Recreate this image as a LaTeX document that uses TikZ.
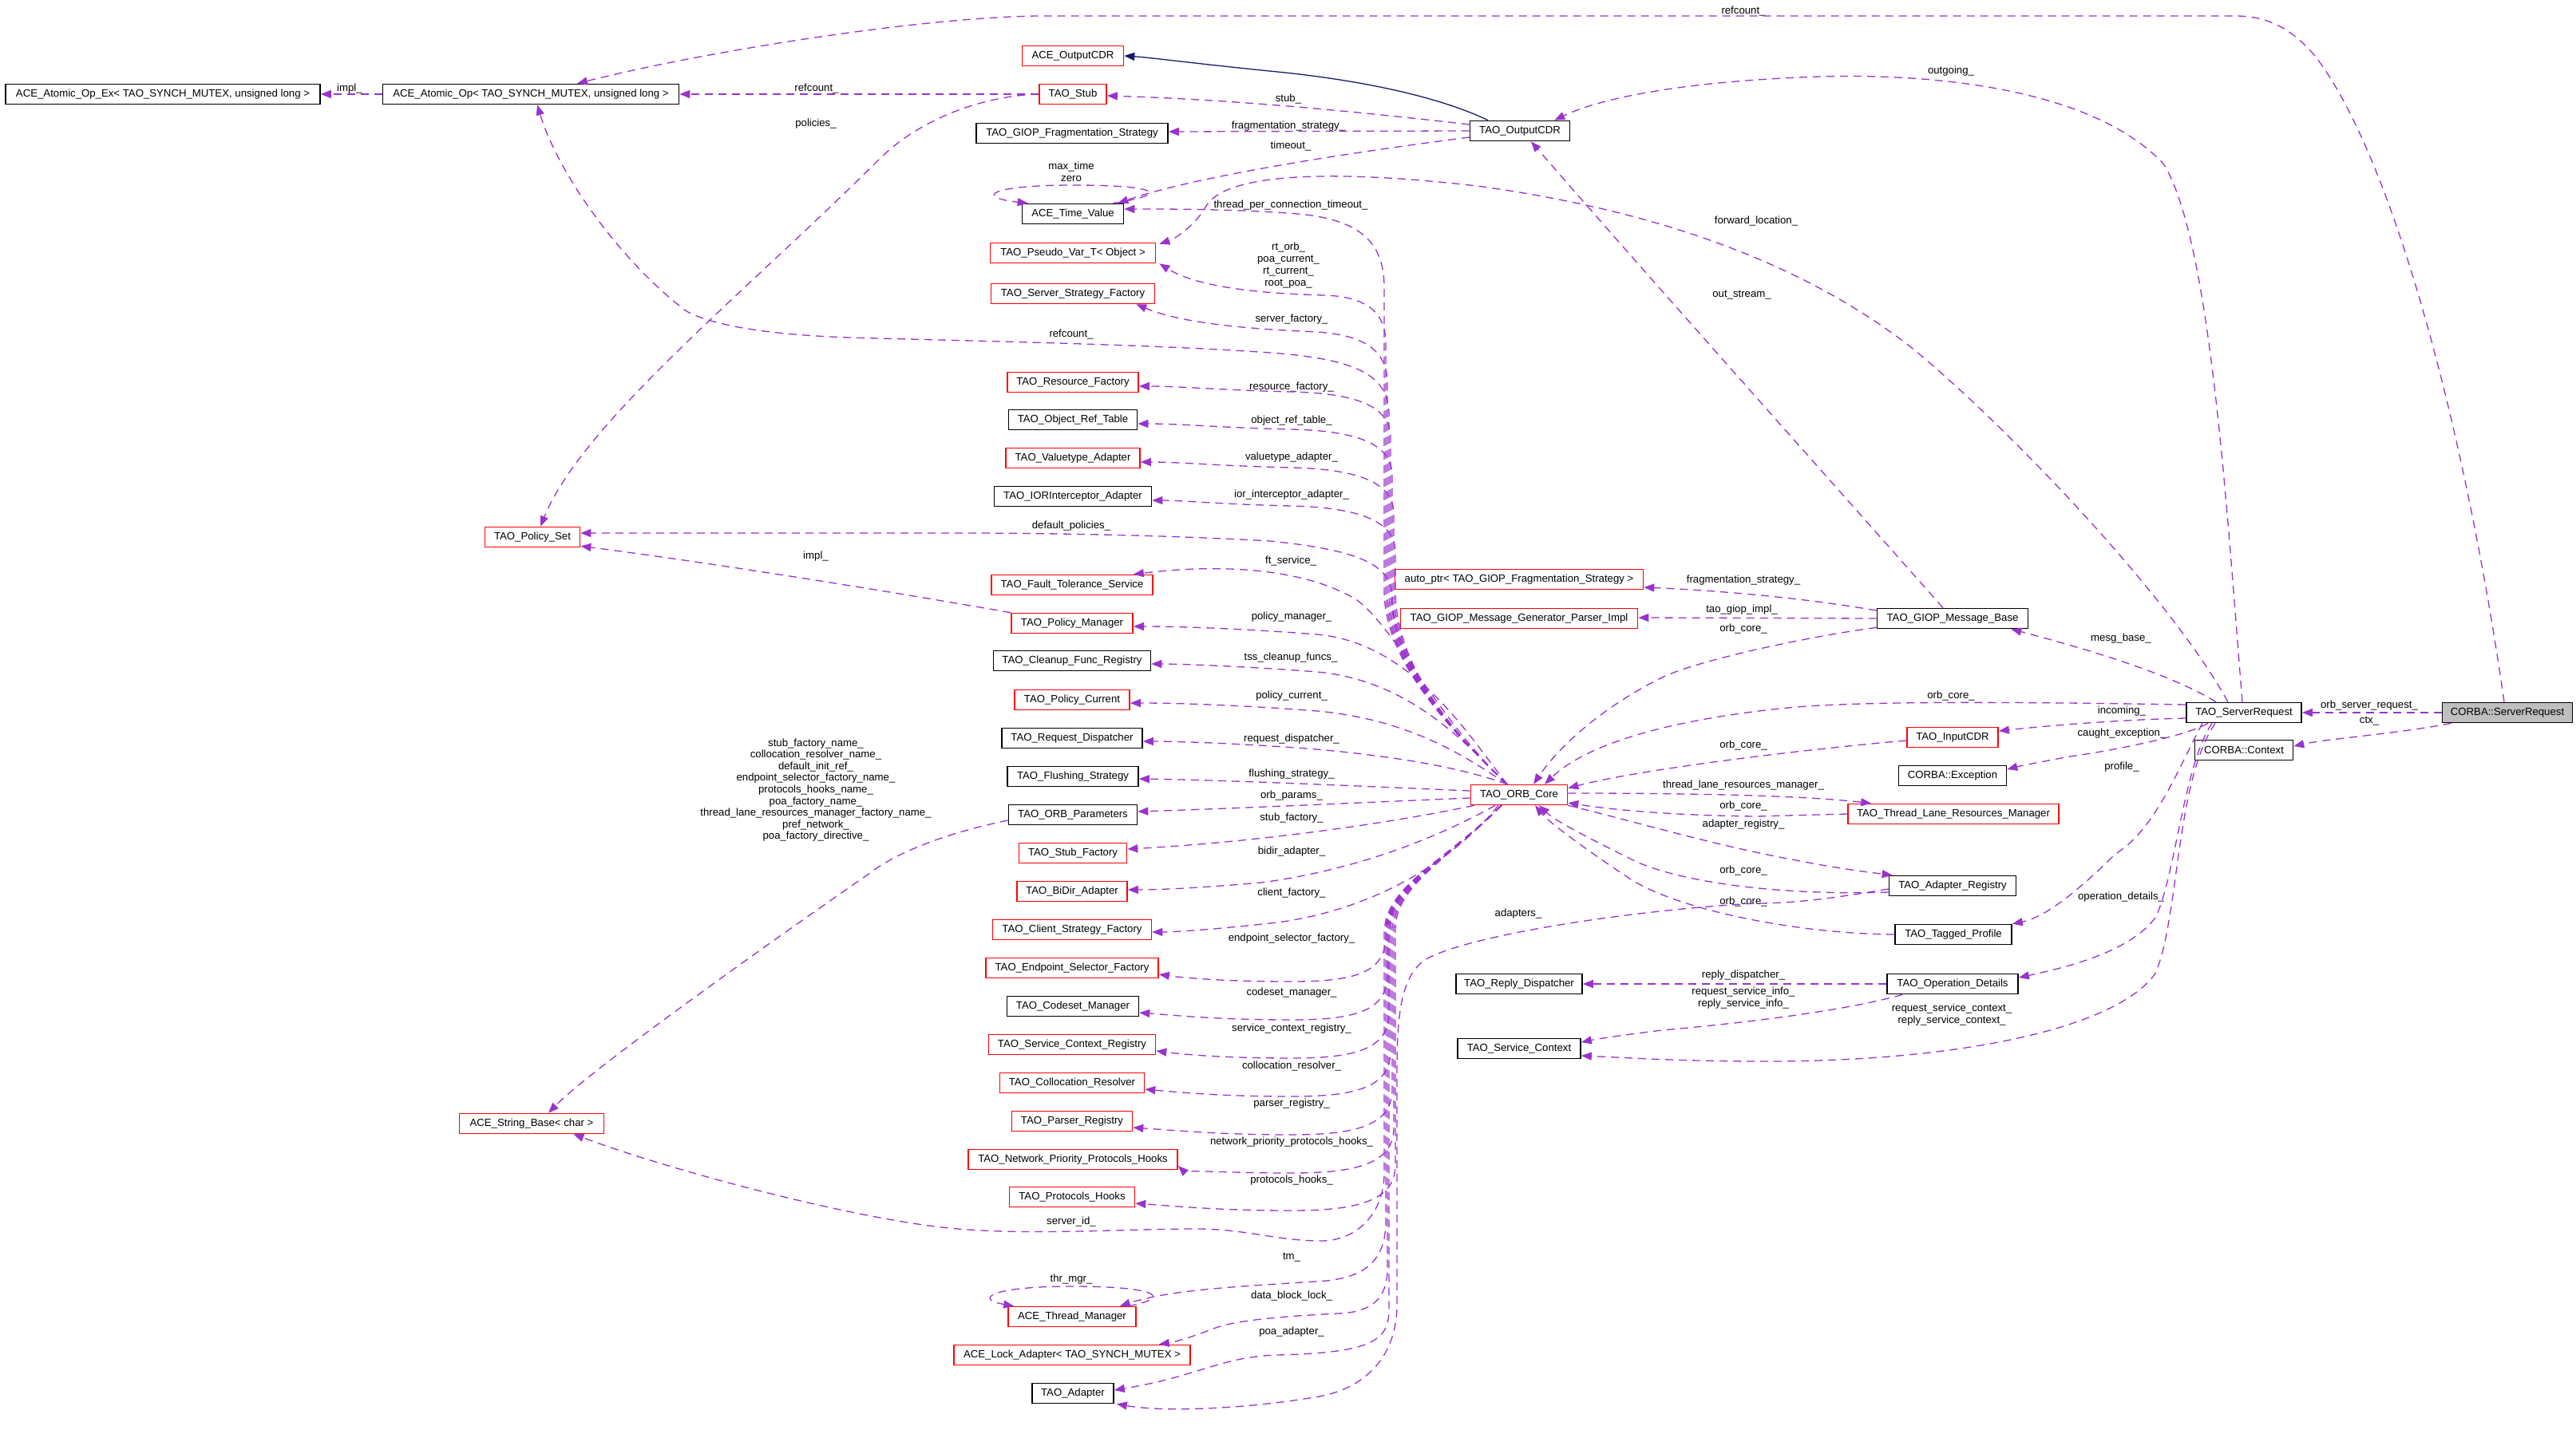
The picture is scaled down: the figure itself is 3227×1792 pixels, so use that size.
\documentclass[tikz,border=0pt]{standalone}
\usepackage{fontspec}
\setmainfont{Liberation Sans}
\usetikzlibrary{arrows.meta,calc}
\definecolor{dxpurple}{RGB}{154,50,205}
\definecolor{dxnavy}{RGB}{25,25,112}
\definecolor{dxgray}{RGB}{191,191,191}
\newcommand\dxfont{\fontsize{6.6pt}{7.5pt}\selectfont}
\tikzset{
 cls/.style={draw, fill=white, line width=0.8pt, minimum height=12.5pt, inner sep=0pt, font=\dxfont},
 bbox/.style={cls, draw=black},
 rbox/.style={cls, draw=red},
 wd/.style={minimum width=#1*0.5pt},
 use/.style={draw=dxpurple, dash pattern=on 5pt off 3.5pt, line width=0.65pt, -{Triangle[length=6.5pt,width=5pt]}},
 inh/.style={draw=dxnavy, line width=0.65pt, -{Triangle[length=6.5pt,width=5pt]}},
 lbl/.style={font=\dxfont, inner sep=0pt, align=center},
}
\newcommand\upE[3]{\draw[use] ($(orbcore.north)+(-15,0)$) .. controls (1800,900) and (#3,820) .. (#3,740) -- (#3,#2+70) .. controls (#3,#2+30) and (1700,#2+14) .. (1618,#2+12) .. controls (1530,#2+10) and (1480,#2+5) .. ($(#1.east)+(0,5)$);}
\newcommand\midE[2]{\draw[use] ($(orbcore.north)+(-15,0)$) .. controls (1840,{0.3*#2+688}) and (1770,#2+25) .. (1650,#2+14) .. controls (1560,#2+7) and (1480,#2+4) .. ($(#1.east)+(0,4)$);}
\newcommand\loE[3]{\draw[use] ($(orbcore.south)+(-22,0)$) .. controls (1810,1080) and (#3,1110) .. (#3,1165) -- (#3,#2-40) .. controls (#3,#2+5) and (1700,#2+17) .. (1618,#2+17) .. controls (1530,#2+17) and (1480,#2+12) .. ($(#1.east)+(0,8)$);}
\begin{document}
\begin{tikzpicture}[x=0.5pt,y=-0.5pt]
\useasboundingbox (0,0) rectangle (3227,1792);
% ---------- classes ----------
\node[bbox,wd=394] (atomicex) at (204,118) {ACE\_Atomic\_Op\_Ex< TAO\_SYNCH\_MUTEX, unsigned long >};
\node[bbox,wd=371] (atomic) at (665,118) {ACE\_Atomic\_Op< TAO\_SYNCH\_MUTEX, unsigned long >};
\node[rbox,wd=119] (policyset) at (667,673) {TAO\_Policy\_Set};
\node[rbox,wd=181] (stringbase) at (666,1408) {ACE\_String\_Base< char >};
\node[rbox,wd=127] (acecdr) at (1344,70) {ACE\_OutputCDR};
\node[rbox,wd=84] (stub) at (1344,118) {TAO\_Stub};
\node[bbox,wd=240] (fragstrat) at (1343,167) {TAO\_GIOP\_Fragmentation\_Strategy};
\node[bbox,wd=127] (timeval) at (1344,268) {ACE\_Time\_Value};
\node[rbox,wd=207] (pseudovar) at (1344,317) {TAO\_Pseudo\_Var\_T< Object >};
\node[rbox,wd=205] (ssf) at (1344,368) {TAO\_Server\_Strategy\_Factory};
\node[rbox,wd=164] (resfac) at (1344,479) {TAO\_Resource\_Factory};
\node[bbox,wd=161] (ortable) at (1344,526) {TAO\_Object\_Ref\_Table};
\node[rbox,wd=168] (valtype) at (1344,574) {TAO\_Valuetype\_Adapter};
\node[bbox,wd=197] (iorint) at (1344,622) {TAO\_IORInterceptor\_Adapter};
\node[rbox,wd=202] (ftserv) at (1343,733) {TAO\_Fault\_Tolerance\_Service};
\node[rbox,wd=152] (polman) at (1343,781) {TAO\_Policy\_Manager};
\node[bbox,wd=197] (cleanup) at (1343,828) {TAO\_Cleanup\_Func\_Registry};
\node[rbox,wd=144] (polcur) at (1343,877) {TAO\_Policy\_Current};
\node[bbox,wd=176] (reqdisp) at (1343,925) {TAO\_Request\_Dispatcher};
\node[bbox,wd=164] (flush) at (1344,973) {TAO\_Flushing\_Strategy};
\node[bbox,wd=161] (orbparams) at (1344,1021) {TAO\_ORB\_Parameters};
\node[rbox,wd=135] (stubfac) at (1344,1069) {TAO\_Stub\_Factory};
\node[rbox,wd=138] (bidir) at (1343,1117) {TAO\_BiDir\_Adapter};
\node[rbox,wd=199] (csf) at (1343,1165) {TAO\_Client\_Strategy\_Factory};
\node[rbox,wd=216] (esf) at (1343,1213) {TAO\_Endpoint\_Selector\_Factory};
\node[bbox,wd=165] (codeset) at (1344,1261) {TAO\_Codeset\_Manager};
\node[rbox,wd=209] (scr) at (1343,1309) {TAO\_Service\_Context\_Registry};
\node[rbox,wd=181] (colres) at (1343,1357) {TAO\_Collocation\_Resolver};
\node[rbox,wd=151] (parser) at (1343,1405) {TAO\_Parser\_Registry};
\node[rbox,wd=262] (nph) at (1344,1453) {TAO\_Network\_Priority\_Protocols\_Hooks};
\node[rbox,wd=157] (phooks) at (1343,1500) {TAO\_Protocols\_Hooks};
\node[rbox,wd=160] (thrmgr) at (1343,1650) {ACE\_Thread\_Manager};
\node[rbox,wd=296] (lockad) at (1343,1698) {ACE\_Lock\_Adapter< TAO\_SYNCH\_MUTEX >};
\node[bbox,wd=102] (adapter) at (1344,1746) {TAO\_Adapter};
\node[bbox,wd=125] (outcdr) at (1904,164) {TAO\_OutputCDR};
\node[rbox,wd=311] (autoptr) at (1903,726) {auto\_ptr< TAO\_GIOP\_Fragmentation\_Strategy >};
\node[rbox,wd=297] (msgimpl) at (1903,775) {TAO\_GIOP\_Message\_Generator\_Parser\_Impl};
\node[rbox,wd=121] (orbcore) at (1903,996) {TAO\_ORB\_Core};
\node[bbox,wd=158] (replydisp) at (1903,1233) {TAO\_Reply\_Dispatcher};
\node[bbox,wd=154] (svcctx) at (1903,1314) {TAO\_Service\_Context};
\node[bbox,wd=189] (msgbase) at (2446,775) {TAO\_GIOP\_Message\_Base};
\node[rbox,wd=114] (inputcdr) at (2446,924) {TAO\_InputCDR};
\node[bbox,wd=135] (exception) at (2446,972) {CORBA::Exception};
\node[rbox,wd=264] (tlrm) at (2447,1020) {TAO\_Thread\_Lane\_Resources\_Manager};
\node[bbox,wd=159] (adreg) at (2446,1110) {TAO\_Adapter\_Registry};
\node[bbox,wd=146] (tagprof) at (2447,1171) {TAO\_Tagged\_Profile};
\node[bbox,wd=164] (opdet) at (2446,1233) {TAO\_Operation\_Details};
\node[bbox,wd=144] (serverreq) at (2811,893) {TAO\_ServerRequest};
\node[bbox,wd=123] (context) at (2811,940) {CORBA::Context};
\node[bbox,wd=163,fill=dxgray] (corbasr) at (3141,893) {CORBA::ServerRequest};
% ---------- labels ----------
\node[lbl] (la1) at (438,111) {impl\_};
\node[lbl] (la2) at (1023,111) {refcount\_};
\node[lbl] (la3) at (1022,155) {policies\_};
\node[lbl] (la4) at (2184,14) {refcount\_};
\node[lbl] (la5) at (1022,697) {impl\_};
\node[lbl] (la6) at (1614,124) {stub\_};
\node[lbl] (la7) at (1614,158) {fragmentation\_strategy\_};
\node[lbl] (la8) at (1617,183) {timeout\_};
\node[lbl] (la9) at (1342,215) {max\_time\\zero};
\node[lbl] (la10) at (1617,257) {thread\_per\_connection\_timeout\_};
\node[lbl] (la11) at (1614,333) {rt\_orb\_\\poa\_current\_\\rt\_current\_\\root\_poa\_};
\node[lbl] (la12) at (1618,400) {server\_factory\_};
\node[lbl] (la13) at (1342,419) {refcount\_};
\node[lbl] (la14) at (1618,485) {resource\_factory\_};
\node[lbl] (la15) at (1618,527) {object\_ref\_table\_};
\node[lbl] (la16) at (1618,573) {valuetype\_adapter\_};
\node[lbl] (la17) at (1618,620) {ior\_interceptor\_adapter\_};
\node[lbl] (la18) at (1342,659) {default\_policies\_};
\node[lbl] (la19) at (1617,703) {ft\_service\_};
\node[lbl] (la20) at (1618,773) {policy\_manager\_};
\node[lbl] (la21) at (1617,824) {tss\_cleanup\_funcs\_};
\node[lbl] (la22) at (1618,872) {policy\_current\_};
\node[lbl] (la23) at (1618,926) {request\_dispatcher\_};
\node[lbl] (la24) at (1618,970) {flushing\_strategy\_};
\node[lbl] (la25) at (1618,997) {orb\_params\_};
\node[lbl] (la26) at (1618,1025) {stub\_factory\_};
\node[lbl] (la27) at (1618,1067) {bidir\_adapter\_};
\node[lbl] (la28) at (1618,1119) {client\_factory\_};
\node[lbl] (la29) at (1618,1176) {endpoint\_selector\_factory\_};
\node[lbl] (la30) at (1618,1244) {codeset\_manager\_};
\node[lbl] (la31) at (1618,1289) {service\_context\_registry\_};
\node[lbl] (la32) at (1618,1336) {collocation\_resolver\_};
\node[lbl] (la33) at (1618,1383) {parser\_registry\_};
\node[lbl] (la34) at (1618,1431) {network\_priority\_protocols\_hooks\_};
\node[lbl] (la35) at (1618,1479) {protocols\_hooks\_};
\node[lbl] (la36) at (1342,1531) {server\_id\_};
\node[lbl] (la37) at (1618,1576) {tm\_};
\node[lbl] (la38) at (1342,1603) {thr\_mgr\_};
\node[lbl] (la39) at (1618,1624) {data\_block\_lock\_};
\node[lbl] (la40) at (1618,1669) {poa\_adapter\_};
\node[lbl,font={\fontsize{6.6pt}{7.3pt}\selectfont}] (la41) at (1022,990) {stub\_factory\_name\_\\collocation\_resolver\_name\_\\default\_init\_ref\_\\endpoint\_selector\_factory\_name\_\\protocols\_hooks\_name\_\\poa\_factory\_name\_\\thread\_lane\_resources\_manager\_factory\_name\_\\pref\_network\_\\poa\_factory\_directive\_};
\node[lbl] (la42) at (2444,89) {outgoing\_};
\node[lbl] (la43) at (2200,277) {forward\_location\_};
\node[lbl] (la44) at (2182,370) {out\_stream\_};
\node[lbl] (la45) at (2184,727) {fragmentation\_strategy\_};
\node[lbl] (la46) at (2182,764) {tao\_giop\_impl\_};
\node[lbl] (la47) at (2184,788) {orb\_core\_};
\node[lbl] (la48) at (2657,800) {mesg\_base\_};
\node[lbl] (la49) at (2444,872) {orb\_core\_};
\node[lbl] (la50) at (2658,891) {incoming\_};
\node[lbl] (la51) at (2658,919) {caught\_exception\_};
\node[lbl] (la52) at (2658,961) {profile\_};
\node[lbl] (la53) at (2184,934) {orb\_core\_};
\node[lbl] (la54) at (2184,984) {thread\_lane\_resources\_manager\_};
\node[lbl] (la55) at (2184,1010) {orb\_core\_};
\node[lbl] (la56) at (2184,1033) {adapter\_registry\_};
\node[lbl] (la57) at (2184,1091) {orb\_core\_};
\node[lbl] (la58) at (2184,1130) {orb\_core\_};
\node[lbl] (la59) at (1902,1145) {adapters\_};
\node[lbl] (la60) at (2657,1124) {operation\_details\_};
\node[lbl] (la61) at (2184,1222) {reply\_dispatcher\_};
\node[lbl] (la62) at (2184,1251) {request\_service\_info\_\\reply\_service\_info\_};
\node[lbl] (la63) at (2445,1272) {request\_service\_context\_\\reply\_service\_context\_};
\node[lbl] (la64) at (2968,884) {orb\_server\_request\_};
\node[lbl] (la65) at (2968,904) {ctx\_};
% ---------- top-left edges ----------
\draw[use] (atomic.west) -- (atomicex.east);
\draw[use] (stub.west) -- (atomic.east);
\draw[use] (stub.west) .. controls (1230,120) and (1150,150) .. (1100,201) .. controls (930,370) and (730,530) .. ($(policyset.north)+(10,0)$);
\draw[use] (polman.north west) .. controls (1050,730) and (850,700) .. ($(policyset.south east)+(0,-2)$);
\draw[use] ($(corbasr.north)+(-4,0)$) .. controls (3090,550) and (3000,200) .. (2900,70) .. controls (2870,35) and (2840,20) .. (2800,20) -- (1300,20) .. controls (1150,22) and (880,65) .. ($(atomic.north)+(58,0)$);
% ---------- TAO_OutputCDR ----------
\draw[inh] ($(outcdr.north)+(-40,0)$) .. controls (1800,120) and (1700,100) .. (1600,90) .. controls (1500,80) and (1440,72) .. (acecdr.east);
\draw[use] ($(outcdr.west)+(0,-8)$) .. controls (1700,140) and (1550,125) .. ($(stub.east)+(0,2)$);
\draw[use] (outcdr.west) -- ($(fragstrat.east)+(0,-2)$);
\draw[use] ($(outcdr.west)+(0,8)$) .. controls (1700,190) and (1500,220) .. ($(timeval.north east)+(-8,0)$);
\draw[use] ($(timeval.north east)+(-14,0)$) .. controls (1470,243) and (1450,232) .. (1344,232) .. controls (1240,232) and (1220,247) .. ($(timeval.north west)+(8,0)$);
% ---------- TAO_ORB_Core, upper left ----------
\draw[use] ($(orbcore.north)+(-15,0)$) .. controls (1800,900) and (1734,820) .. (1734,740) -- (1734,360) .. controls (1734,300) and (1700,272) .. (1612,267) .. controls (1540,262) and (1470,262) .. ($(timeval.east)+(0,-6)$);
\draw[use] ($(orbcore.north)+(-15,0)$) .. controls (1800,900) and (1736,820) .. (1736,740) -- (1736,430) .. controls (1736,390) and (1710,372) .. (1660,370) .. controls (1580,368) and (1500,360) .. ($(pseudovar.south east)+(4,0)$);
\draw[use] ($(orbcore.north)+(-15,0)$) .. controls (1800,900) and (1738,820) .. (1738,740) -- (1738,480) .. controls (1738,440) and (1710,420) .. (1650,416) .. controls (1560,412) and (1480,405) .. ($(ssf.south east)+(-24,0)$);
\draw[use] ($(orbcore.north)+(-15,0)$) .. controls (1800,900) and (1740,820) .. (1740,740) -- (1740,520) .. controls (1740,470) and (1700,450) .. (1591,442) .. controls (1450,432) and (1250,428) .. (1100,424) .. controls (990,422) and (900,412) .. (860,390) .. controls (780,330) and (700,220) .. ($(atomic.south)+(8,0)$);
\upE{resfac}{479}{1742}
\upE{ortable}{526}{1744}
\upE{valtype}{574}{1746}
\upE{iorint}{622}{1748}
\draw[use] ($(orbcore.north)+(-15,0)$) .. controls (1800,900) and (1744,820) .. (1744,750) .. controls (1744,710) and (1710,690) .. (1591,678) .. controls (1450,670) and (1300,668) .. (1200,668) -- ($(policyset.east)+(0,-5)$);
\draw[use] ($(orbcore.north)+(-15,0)$) .. controls (1800,900) and (1750,790) .. (1700,752) .. controls (1640,715) and (1540,705) .. ($(ftserv.north east)+(-25,0)$);
\midE{polman}{781}
\midE{cleanup}{828}
\midE{polcur}{877}
\midE{reqdisp}{925}
% ---------- TAO_ORB_Core, direct left ----------
\draw[use] ($(orbcore.west)+(0,-5)$) .. controls (1700,985) and (1550,978) .. ($(flush.east)+(0,3)$);
\draw[use] ($(orbcore.west)+(0,4)$) .. controls (1700,1006) and (1550,1013) .. ($(orbparams.east)+(0,-4)$);
\draw[use] ($(orbcore.south west)+(5,0)$) .. controls (1750,1030) and (1580,1055) .. ($(stubfac.east)+(0,-5)$);
\draw[use] ($(orbcore.south)+(-30,0)$) .. controls (1800,1050) and (1700,1090) .. (1580,1106) .. controls (1500,1113) and (1450,1115) .. ($(bidir.east)+(0,-2)$);
\draw[use] ($(orbcore.south)+(-26,0)$) .. controls (1820,1080) and (1720,1140) .. (1600,1156) .. controls (1520,1165) and (1470,1168) .. ($(csf.east)+(0,3)$);
% ---------- TAO_ORB_Core, lower left ----------
\loE{esf}{1213}{1736}
\loE{codeset}{1261}{1738}
\loE{scr}{1309}{1740}
\loE{colres}{1357}{1742}
\loE{parser}{1405}{1744}
\loE{nph}{1453}{1746}
\loE{phooks}{1500}{1748}
\draw[use] ($(orbcore.south)+(-22,0)$) .. controls (1810,1080) and (1734,1110) .. (1734,1170) -- (1734,1470) .. controls (1734,1520) and (1700,1555) .. (1655,1555) .. controls (1600,1555) and (1560,1540) .. (1500,1540) .. controls (1400,1540) and (1300,1548) .. (1200,1540) .. controls (1080,1530) and (850,1470) .. ($(stringbase.south east)+(-39,0)$);
\draw[use] ($(orbcore.south)+(-22,0)$) .. controls (1810,1080) and (1736,1110) .. (1736,1170) -- (1736,1530) .. controls (1736,1580) and (1710,1600) .. (1661,1605) .. controls (1560,1612) and (1470,1615) .. ($(thrmgr.north east)+(-21,0)$);
\draw[use] ($(thrmgr.north east)+(-10,0)$) .. controls (1470,1626) and (1450,1612) .. (1343,1612) .. controls (1240,1612) and (1220,1628) .. ($(thrmgr.north west)+(8,0)$);
\draw[use] ($(orbcore.south)+(-22,0)$) .. controls (1810,1080) and (1738,1110) .. (1738,1170) -- (1738,1590) .. controls (1738,1630) and (1715,1645) .. (1675,1646) .. controls (1600,1650) and (1545,1655) .. (1520,1665) .. controls (1495,1675) and (1470,1682) .. ($(lockad.north east)+(-40,0)$);
\draw[use] ($(orbcore.south)+(-22,0)$) .. controls (1810,1080) and (1740,1110) .. (1740,1170) -- (1740,1640) .. controls (1740,1680) and (1720,1695) .. (1600,1698) .. controls (1530,1700) and (1500,1725) .. ($(adapter.east)+(0,-4)$);
\draw[use] ($(orbparams.west)+(0,7)$) .. controls (1180,1045) and (1120,1070) .. (1087,1096) .. controls (980,1170) and (740,1340) .. ($(stringbase.north)+(21,0)$);
% ---------- TAO_GIOP_Message_Base ----------
\draw[use] ($(msgbase.west)+(0,-10)$) .. controls (2250,748) and (2150,740) .. ($(autoptr.east)+(0,10)$);
\draw[use] (msgbase.west) -- ($(msgimpl.east)+(0,-1)$);
\draw[use] ($(msgbase.south west)+(0,-2)$) .. controls (2250,800) and (2120,830) .. (2082,849) .. controls (2000,890) and (1950,940) .. ($(orbcore.north)+(18,0)$);
\draw[use] ($(msgbase.north)+(-12,0)$) .. controls (2300,610) and (2050,330) .. ($(outcdr.south)+(14,0)$);
% ---------- TAO_ServerRequest ----------
\draw[use] ($(serverreq.north)+(-2,0)$) .. controls (2790,650) and (2770,300) .. (2710,205) .. controls (2620,110) and (2420,92) .. (2280,96) .. controls (2100,102) and (2000,125) .. ($(outcdr.north east)+(-20,0)$);
\draw[use] ($(serverreq.north)+(-20,0)$) .. controls (2720,750) and (2520,540) .. (2400,440) .. controls (2250,320) and (2050,260) .. (1850,233) .. controls (1650,210) and (1530,220) .. (1510,260) .. controls (1495,285) and (1470,300) .. ($(pseudovar.north east)+(4,2)$);
\draw[use] ($(serverreq.north)+(-35,0)$) .. controls (2720,845) and (2620,815) .. ($(msgbase.south east)+(-22,0)$);
\draw[use] ($(serverreq.west)+(0,-10)$) .. controls (2550,880) and (2350,878) .. (2250,886) .. controls (2100,900) and (1990,930) .. ($(orbcore.north)+(32,0)$);
\draw[use] ($(serverreq.west)+(0,7)$) .. controls (2650,902) and (2560,910) .. ($(inputcdr.east)+(0,-8)$);
\draw[use] ($(serverreq.south)+(-45,0)$) .. controls (2740,922) and (2650,940) .. (2593,948) .. controls (2560,954) and (2530,960) .. ($(exception.east)+(0,-8)$);
\draw[use] ($(serverreq.south)+(-52,0)$) .. controls (2730,960) and (2700,1040) .. (2650,1070) .. controls (2600,1120) and (2560,1150) .. (tagprof.north east);
\draw[use] ($(serverreq.south)+(-40,0)$) .. controls (2735,960) and (2725,1100) .. (2700,1150) .. controls (2670,1190) and (2600,1210) .. ($(opdet.east)+(0,-8)$);
\draw[use] ($(serverreq.south)+(-36,0)$) .. controls (2725,980) and (2730,1150) .. (2700,1220) .. controls (2650,1290) and (2450,1330) .. (2213,1330) .. controls (2100,1330) and (2030,1325) .. ($(svcctx.east)+(0,9)$);
% ---------- TAO_Operation_Details ----------
\draw[use] (opdet.west) -- (replydisp.east);
\draw[use] ($(opdet.south west)+(20,0)$) .. controls (2300,1270) and (2150,1285) .. (2082,1291) .. controls (2040,1296) and (2000,1302) .. ($(svcctx.east)+(0,-8)$);
% ---------- into / out of ORB core on the right ----------
\draw[use] ($(inputcdr.west)+(0,4)$) .. controls (2250,940) and (2050,965) .. ($(orbcore.north east)+(0,5)$);
\draw[use] ($(orbcore.east)+(0,-2)$) .. controls (2100,994) and (2250,996) .. ($(tlrm.north west)+(30,0)$);
\draw[use] (tlrm.west) -- (2200,1023) .. controls (2100,1022) and (2020,1015) .. ($(orbcore.east)+(0,10)$);
\draw[use] (orbcore.south east) .. controls (2050,1030) and (2150,1060) .. (2250,1078) .. controls (2300,1088) and (2340,1093) .. ($(adreg.north west)+(5,0)$);
\draw[use] ($(adreg.west)+(0,8)$) .. controls (2250,1122) and (2120,1110) .. (2050,1080) .. controls (1990,1050) and (1950,1030) .. ($(orbcore.south)+(25,0)$);
\draw[use] (tagprof.west) .. controls (2250,1170) and (2100,1140) .. (2040,1100) .. controls (1980,1060) and (1940,1030) .. ($(orbcore.south)+(20,0)$);
\draw[use] ($(adreg.west)+(0,4)$) .. controls (2300,1125) and (2250,1132) .. (2200,1132) .. controls (2050,1140) and (1850,1170) .. (1790,1200) .. controls (1752,1220) and (1750,1280) .. (1750,1350) -- (1750,1640) .. controls (1747,1710) and (1700,1745) .. (1640,1752) .. controls (1560,1765) and (1460,1770) .. ($(adapter.south east)+(3,0)$);
% ---------- CORBA::ServerRequest ----------
\draw[use] (corbasr.west) -- (serverreq.east);
\draw[use] ($(corbasr.south west)+(12,0)$) .. controls (3000,920) and (2920,925) .. ($(context.east)+(0,-5)$);
\end{tikzpicture}
\end{document}
